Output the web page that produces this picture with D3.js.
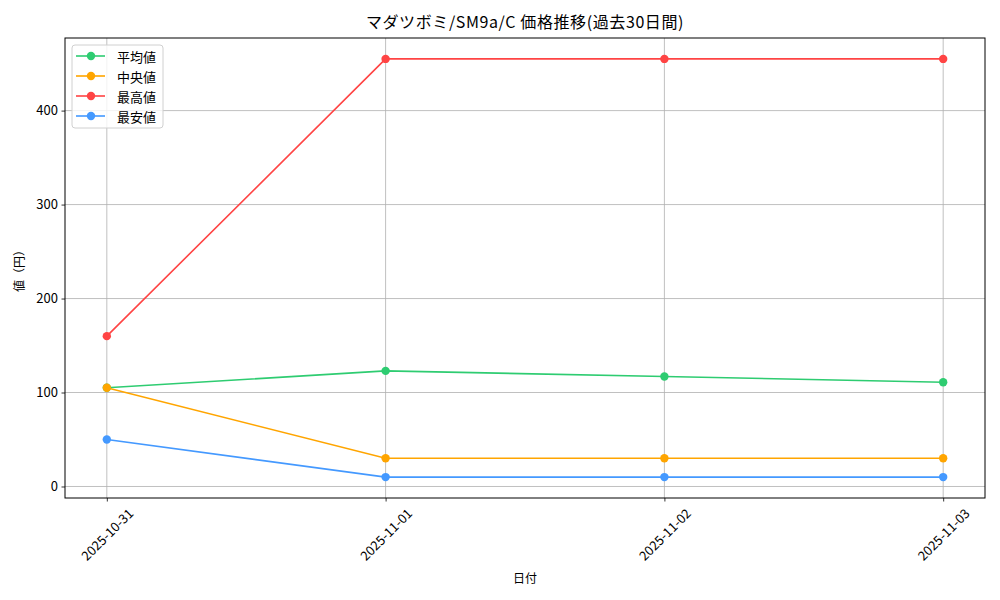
<!DOCTYPE html>
<html><head><meta charset="utf-8">
<script src="https://cdn.jsdelivr.net/npm/d3@7"></script>
<style>body{margin:0;background:#fff}svg{display:block}text{font-family:"Noto Sans CJK JP","DejaVu Sans",sans-serif;fill:#000}</style>
</head><body><svg id="c" width="1000" height="600"></svg>
<script>
const dates = ["2025-10-31","2025-11-01","2025-11-02","2025-11-03"];
const avgValues = [105, 123, 117, 111];
const medianValues = [105, 30, 30, 30];
const maxValues = [160, 455, 455, 455];
const minValues = [50, 10, 10, 10];
const seriesNames = ["平均値","中央値","最高値","最安値"];
const seriesColors = ["#2ecc71","#ffa500","#ff4444","#4499ff"];
const yTicks = [0,100,200,300,400];
const title = "マダツボミ/SM9a/C 価格推移(過去30日間)";

const series = [avgValues, medianValues, maxValues, minValues].map((v,i)=>({name:seriesNames[i], color:seriesColors[i], values:v}));

const svg = d3.select("#c");
const L=65, R=985, T=38, B=498;
// emulate matplotlib 5% margins: indices 0..3 with domain [-0.15, 3.15]
const xi = d3.scaleLinear().domain([-0.15, 3.15]).range([L,R]);
const all = series.flatMap(s=>s.values);
const mn = d3.min(all), mx = d3.max(all), pad=(mx-mn)*0.05;
const y = d3.scaleLinear().domain([mn-pad, mx+pad]).range([B,T]);

// grid
const g = svg.append("g");
g.selectAll(".gx").data(dates).enter().append("line")
 .attr("x1",(d,i)=>xi(i)).attr("x2",(d,i)=>xi(i)).attr("y1",T).attr("y2",B)
 .attr("stroke","#b0b0b0").attr("stroke-width",0.8);
g.selectAll(".gy").data(yTicks).enter().append("line")
 .attr("x1",L).attr("x2",R).attr("y1",d=>y(d)).attr("y2",d=>y(d))
 .attr("stroke","#b0b0b0").attr("stroke-width",0.8);

// axes
const yAxis = d3.axisLeft(y).tickValues(yTicks).tickSize(3.5).tickPadding(3.5);
const ya = svg.append("g").attr("transform",`translate(${L},0)`).call(yAxis);
ya.select(".domain").remove();
ya.selectAll("text").style("font-size","13px");
const xAxis = d3.axisBottom(xi).tickValues([0,1,2,3]).tickSize(3.5).tickFormat("");
const xa = svg.append("g").attr("transform",`translate(0,${B})`).call(xAxis);
xa.select(".domain").remove();
svg.selectAll(".tick line").attr("stroke","#000").attr("stroke-width",0.8);

svg.selectAll(".xl").data(dates).enter().append("text")
 .attr("transform",(d,i)=>`translate(${xi(i)},${534}) rotate(-45)`)
 .attr("text-anchor","middle").attr("dominant-baseline","central")
 .style("font-size","13px").text(d=>d);

// frame
svg.append("rect").attr("x",L).attr("y",T).attr("width",R-L).attr("height",B-T)
 .attr("fill","none").attr("stroke","#000").attr("stroke-width",1);

// lines
const line = d3.line().x((d,i)=>xi(i)).y(d=>y(d));
series.forEach(s=>{
  svg.append("path").datum(s.values).attr("d",line).attr("fill","none")
    .attr("stroke",s.color).attr("stroke-width",1.6);
  svg.selectAll(null).data(s.values).enter().append("circle")
    .attr("cx",(d,i)=>xi(i)).attr("cy",d=>y(d)).attr("r",4.2).attr("fill",s.color);
});

// title & labels
svg.append("text").attr("x",(L+R)/2).attr("y",28).attr("text-anchor","middle")
 .style("font-size","16px").style("letter-spacing","0.6px").text(title);
svg.append("text").attr("x",(L+R)/2).attr("y",583).attr("text-anchor","middle")
 .style("font-size","12px").text("日付");
svg.append("text").attr("transform",`translate(24,${(T+B)/2}) rotate(-90)`).attr("text-anchor","middle")
 .style("font-size","12px").text("値（円）");

// legend
const lg = svg.append("g");
lg.append("rect").attr("x",72).attr("y",45).attr("width",91).attr("height",83).attr("rx",3)
 .attr("fill","#fff").attr("fill-opacity",0.8).attr("stroke","#d0d0d0").attr("stroke-width",1);
series.forEach((s,i)=>{
  const yy = 56 + i*20;
  lg.append("line").attr("x1",76).attr("x2",105).attr("y1",yy).attr("y2",yy).attr("stroke",s.color).attr("stroke-width",1.6);
  lg.append("circle").attr("cx",91).attr("cy",yy).attr("r",4.2).attr("fill",s.color);
  lg.append("text").attr("x",117).attr("y",yy).attr("dominant-baseline","central").style("font-size","13px").text(s.name);
});
</script></body></html>
